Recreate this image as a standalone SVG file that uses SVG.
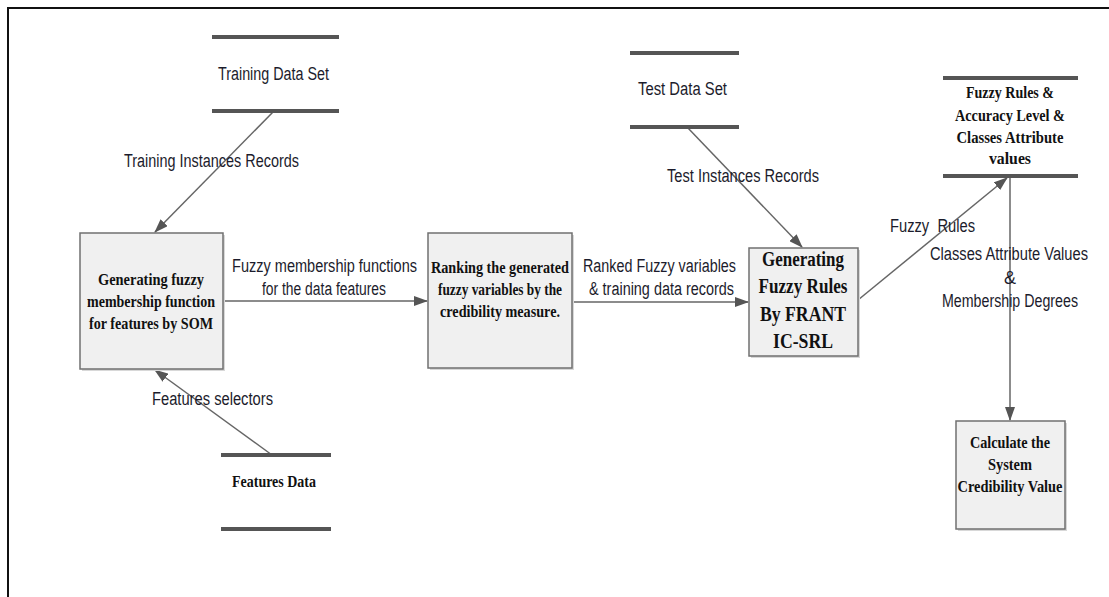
<svg xmlns="http://www.w3.org/2000/svg" width="1109" height="597" viewBox="0 0 1109 597">
<style>
.lbl{font-family:"Liberation Sans",Arial,sans-serif;font-size:18px;fill:#1c1c2c;}
.bt{font-family:"Liberation Serif","Times New Roman",serif;font-weight:bold;fill:#111;text-anchor:middle;}
.box{fill:#f0f0f0;stroke:#707070;stroke-width:1.5;}
.shadow{fill:#d8d8d8;}
.bar{stroke:#555;stroke-width:4;}
.conn{stroke:#666;stroke-width:1.5;fill:none;}
</style>
<defs>
<marker id="arr" markerWidth="14" markerHeight="10" refX="13" refY="5" orient="auto" markerUnits="userSpaceOnUse">
<path d="M0,0 L14,5 L0,10 Z" fill="#555"/>
</marker>
</defs>
<rect width="1109" height="597" fill="#fff"/>
<path d="M8,597 V8 H1109" fill="none" stroke="#111" stroke-width="2"/>

<g id="connectors">
<line class="conn" x1="274" y1="111" x2="155" y2="232" marker-end="url(#arr)"/>
<line class="conn" x1="223" y1="301" x2="427" y2="301" marker-end="url(#arr)"/>
<line class="conn" x1="572" y1="302" x2="748" y2="302" marker-end="url(#arr)"/>
<line class="conn" x1="687" y1="127" x2="802" y2="247" marker-end="url(#arr)"/>
<line class="conn" x1="858" y1="300" x2="1007" y2="178" marker-end="url(#arr)"/>
<line class="conn" x1="1010" y1="176" x2="1010" y2="420" marker-end="url(#arr)"/>
<line class="conn" x1="272" y1="455" x2="155" y2="370" marker-end="url(#arr)"/>
<text class="lbl" x="124" y="167" textLength="175" lengthAdjust="spacingAndGlyphs">Training Instances Records</text>
<text class="lbl" x="232" y="272" textLength="185" lengthAdjust="spacingAndGlyphs">Fuzzy membership functions</text>
<text class="lbl" x="262" y="295" textLength="124" lengthAdjust="spacingAndGlyphs">for the data features</text>
<text class="lbl" x="583" y="272" textLength="153" lengthAdjust="spacingAndGlyphs">Ranked Fuzzy variables</text>
<text class="lbl" x="589" y="295" textLength="145" lengthAdjust="spacingAndGlyphs">&amp; training data records</text>
<text class="lbl" x="667" y="182" textLength="152" lengthAdjust="spacingAndGlyphs">Test Instances Records</text>
<text class="lbl" x="890" y="232" textLength="85" lengthAdjust="spacingAndGlyphs" xml:space="preserve">Fuzzy  Rules</text>
<text class="lbl" x="930" y="260" textLength="158" lengthAdjust="spacingAndGlyphs">Classes Attribute Values</text>
<text class="lbl" x="1010" y="284" text-anchor="middle">&amp;</text>
<text class="lbl" x="942" y="307" textLength="136" lengthAdjust="spacingAndGlyphs">Membership Degrees</text>
<text class="lbl" x="152" y="405" textLength="121" lengthAdjust="spacingAndGlyphs">Features selectors</text>
</g>

<g id="training-data-set">
<line class="bar" x1="212" y1="37" x2="339" y2="37"/>
<line class="bar" x1="212" y1="111" x2="339" y2="111"/>
<text class="lbl" x="218" y="80" textLength="111" lengthAdjust="spacingAndGlyphs">Training Data Set</text>
</g>

<g id="test-data-set">
<line class="bar" x1="630" y1="53" x2="739" y2="53"/>
<line class="bar" x1="630" y1="127" x2="739" y2="127"/>
<text class="lbl" x="638" y="95" textLength="89" lengthAdjust="spacingAndGlyphs">Test Data Set</text>
</g>

<g id="fuzzy-rules-store">
<line class="bar" x1="943" y1="78" x2="1078" y2="78"/>
<line class="bar" x1="943" y1="176" x2="1078" y2="176"/>
<text class="bt" font-size="16" x="1010" y="98" textLength="88" lengthAdjust="spacingAndGlyphs">Fuzzy Rules &amp;</text>
<text class="bt" font-size="16" x="1010" y="121" textLength="110" lengthAdjust="spacingAndGlyphs">Accuracy Level &amp;</text>
<text class="bt" font-size="16" x="1010" y="143" textLength="107" lengthAdjust="spacingAndGlyphs">Classes Attribute</text>
<text class="bt" font-size="16" x="1010" y="164" textLength="42" lengthAdjust="spacingAndGlyphs">values</text>
</g>

<g id="features-data">
<line class="bar" x1="221" y1="455" x2="331" y2="455"/>
<line class="bar" x1="221" y1="529" x2="331" y2="529"/>
<text class="bt" font-size="17" x="274" y="487" textLength="84" lengthAdjust="spacingAndGlyphs">Features Data</text>
</g>

<g id="box-som">
<rect class="shadow" x="82" y="235" width="143" height="136"/>
<rect class="box" x="80" y="233" width="143" height="136"/>
<text class="bt" font-size="17" x="151" y="285" textLength="106" lengthAdjust="spacingAndGlyphs">Generating fuzzy</text>
<text class="bt" font-size="17" x="151" y="307" textLength="128" lengthAdjust="spacingAndGlyphs">membership function</text>
<text class="bt" font-size="17" x="151" y="329" textLength="124" lengthAdjust="spacingAndGlyphs">for features by SOM</text>
</g>

<g id="box-ranking">
<rect class="shadow" x="430" y="235" width="144" height="135"/>
<rect class="box" x="428" y="233" width="144" height="135"/>
<text class="bt" font-size="17" x="500" y="273" textLength="138" lengthAdjust="spacingAndGlyphs">Ranking the generated</text>
<text class="bt" font-size="17" x="500" y="295" textLength="124" lengthAdjust="spacingAndGlyphs">fuzzy variables by the</text>
<text class="bt" font-size="17" x="500" y="317" textLength="120" lengthAdjust="spacingAndGlyphs">credibility measure.</text>
</g>

<g id="box-frant">
<rect class="shadow" x="751" y="250" width="109" height="108"/>
<rect class="box" x="749" y="248" width="109" height="108"/>
<text class="bt" font-size="20" x="803" y="266" textLength="82" lengthAdjust="spacingAndGlyphs">Generating</text>
<text class="bt" font-size="20" x="803" y="293" textLength="89" lengthAdjust="spacingAndGlyphs">Fuzzy Rules</text>
<text class="bt" font-size="20" x="803" y="321" textLength="86" lengthAdjust="spacingAndGlyphs">By FRANT</text>
<text class="bt" font-size="20" x="803" y="348" textLength="60" lengthAdjust="spacingAndGlyphs">IC-SRL</text>
</g>

<g id="box-credibility">
<rect class="shadow" x="958" y="423" width="109" height="108"/>
<rect class="box" x="956" y="421" width="109" height="108"/>
<text class="bt" font-size="17" x="1010" y="448" textLength="80" lengthAdjust="spacingAndGlyphs">Calculate the</text>
<text class="bt" font-size="17" x="1010" y="470" textLength="44" lengthAdjust="spacingAndGlyphs">System</text>
<text class="bt" font-size="17" x="1010" y="492" textLength="105" lengthAdjust="spacingAndGlyphs">Credibility Value</text>
</g>
</svg>
